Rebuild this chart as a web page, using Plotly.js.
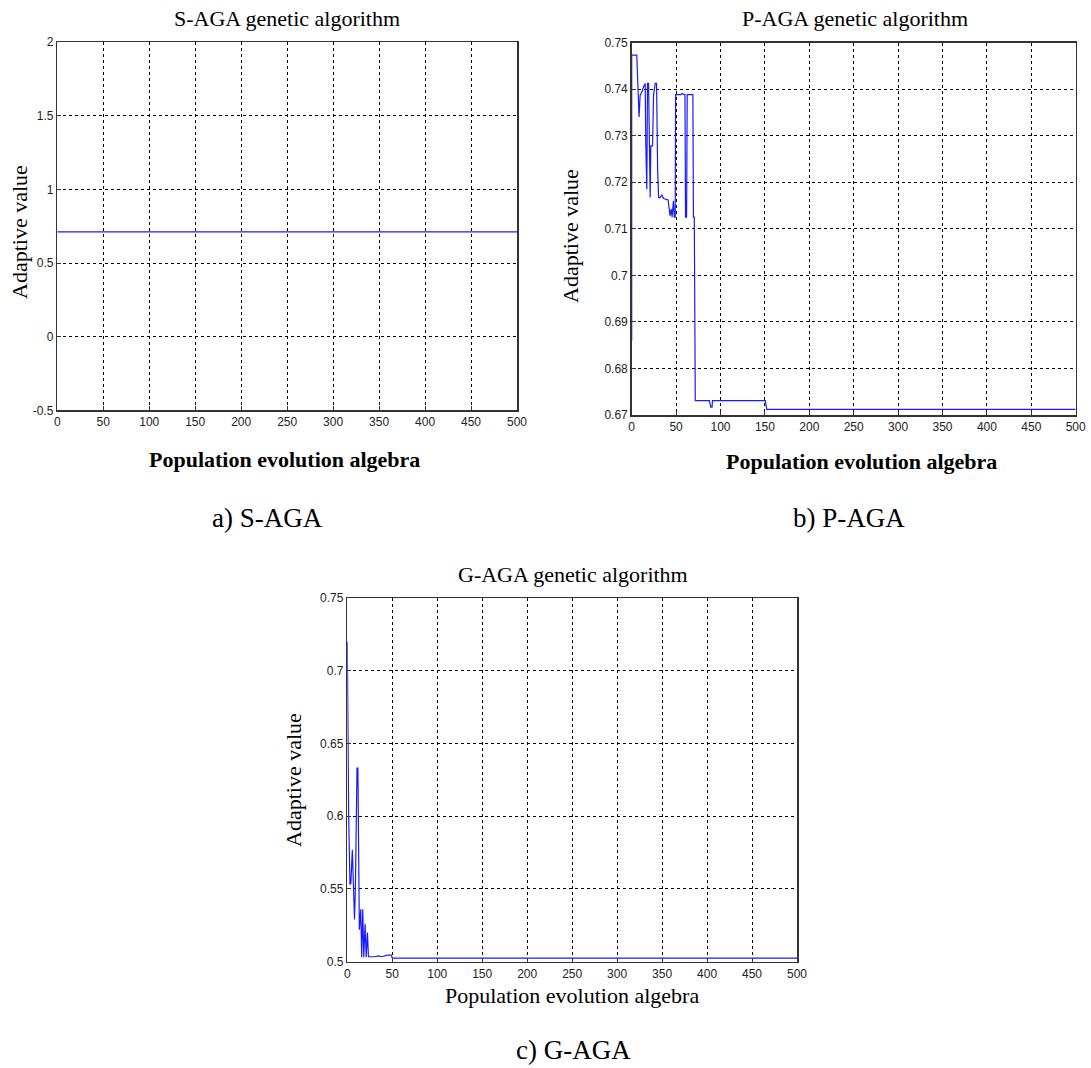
<!DOCTYPE html>
<html>
<head>
<meta charset="utf-8">
<script src="https://cdn.plot.ly/plotly-3.0.1.min.js"></script>
<style>
  html, body { margin: 0; padding: 0; background: #fff; }
  #chart { width: 1091px; height: 1068px; }
</style>
</head>
<body>
<div id="chart"></div>
<script>
// ---- Data ----
const sagaX = [0, 500];
const sagaY = [0.712, 0.712];

const pagaX = [0, 0, 5.7, 7.6, 8.3, 9.5, 11.5, 13.3, 14.4, 15.2, 15.9, 17.0, 17.8, 19.0, 20.8, 21.5, 23.5, 24.6, 26.5, 28.0, 29.2, 30.3,
               32.0, 34.0, 36.0, 41.0, 43.2, 44.5, 45.5, 47.0, 48.0, 49.0, 49.2, 49.5, 55.0, 57.0, 60.0, 60.6, 61.8, 62.5, 68.9, 69.5,
               70.5, 71.0, 71.6, 87.5, 89.0, 90.5, 91.0, 150.5, 152.0, 500];
const pagaY = [0.686, 0.7473, 0.7473, 0.7369, 0.734, 0.7387, 0.7394, 0.7405, 0.7412, 0.7412, 0.728, 0.7185, 0.7412, 0.7412, 0.7167, 0.7278, 0.7278, 0.7387, 0.7412, 0.7412, 0.7227, 0.7167,
               0.7167, 0.7172, 0.7165, 0.7162, 0.7128, 0.7142, 0.7125, 0.7160, 0.7125, 0.7125, 0.7255, 0.7388, 0.7388, 0.7390, 0.7388, 0.7125, 0.7125, 0.7388, 0.7388, 0.7125,
               0.7125, 0.6926, 0.6731, 0.6731, 0.6717, 0.6717, 0.6731, 0.6731, 0.6712, 0.6712];

const gagaX = [0, 0.4, 0.8, 1.5, 3.0, 4.0, 5.6, 6.5, 8.0, 9.0, 10.8, 11.8, 12.3, 13.4, 15.0, 16.0, 17.2, 18.3, 19.8, 21.0, 22.4, 23.5,
               30.0, 35.0, 38.0, 45.0, 49.0, 50.0, 500];
const gagaY = [0.720, 0.680, 0.643, 0.600, 0.553, 0.554, 0.577, 0.555, 0.529, 0.550, 0.633, 0.633, 0.582, 0.522, 0.536, 0.503, 0.536, 0.503, 0.526, 0.503, 0.520, 0.5034,
               0.5034, 0.5040, 0.5034, 0.5045, 0.5045, 0.5025, 0.5025];

const xTicks = [0, 50, 100, 150, 200, 250, 300, 350, 400, 450, 500];
const sagaYTicks = [-0.5, 0, 0.5, 1, 1.5, 2];
const sagaYText = ["-0.5", "0", "0.5", "1", "1.5", "2"];
const pagaYTicks = [0.67, 0.68, 0.69, 0.70, 0.71, 0.72, 0.73, 0.74, 0.75];
const pagaYText = ["0.67", "0.68", "0.69", "0.7", "0.71", "0.72", "0.73", "0.74", "0.75"];
const gagaYTicks = [0.5, 0.55, 0.6, 0.65, 0.7, 0.75];
const gagaYText = ["0.5", "0.55", "0.6", "0.65", "0.7", "0.75"];

const subplotTitles = ["S-AGA genetic algorithm", "P-AGA genetic algorithm", "G-AGA genetic algorithm"];
const xTitle = "Population evolution algebra";
const yTitle = "Adaptive value";
const captions = ["a) S-AGA", "b) P-AGA", "c) G-AGA"];

// ---- Layout helpers ----
const W = 1091, H = 1068;
const px = v => v / W;
const py = v => 1 - v / H;

const tickFont = { family: "Liberation Sans, Arial, sans-serif", size: 12, color: "#222" };
const serif = "Liberation Serif, Times New Roman, serif";

function xAxis(domain, anchor) {
  return {
    domain: domain, anchor: anchor, range: [0, 500],
    tickvals: xTicks, ticktext: xTicks.map(String),
    showgrid: true, gridcolor: "#000", gridwidth: 1, griddash: "3px,3px",
    zeroline: false, showline: true, linecolor: "#333", linewidth: 1.5, mirror: true,
    ticks: "inside", ticklen: 4, tickcolor: "#333",
    tickfont: tickFont, fixedrange: true
  };
}
function yAxis(domain, anchor, range, vals, text) {
  return {
    domain: domain, anchor: anchor, range: range,
    tickvals: vals, ticktext: text,
    showgrid: true, gridcolor: "#000", gridwidth: 1, griddash: "3px,3px",
    zeroline: false, showline: true, linecolor: "#333", linewidth: 1.5, mirror: true,
    ticks: "inside", ticklen: 4, tickcolor: "#333",
    tickfont: tickFont, fixedrange: true
  };
}

const lineStyle = { color: "#1a1aff", width: 1.2 };

const data = [
  { x: sagaX, y: sagaY, type: "scatter", mode: "lines", line: lineStyle, xaxis: "x", yaxis: "y", showlegend: false },
  { x: pagaX, y: pagaY, type: "scatter", mode: "lines", line: lineStyle, xaxis: "x2", yaxis: "y2", showlegend: false },
  { x: gagaX, y: gagaY, type: "scatter", mode: "lines", line: lineStyle, xaxis: "x3", yaxis: "y3", showlegend: false }
];

function ann(text, x, y, size, opts) {
  return Object.assign({
    text: text, x: px(x), y: py(y), xref: "paper", yref: "paper",
    xanchor: "center", yanchor: "middle", showarrow: false,
    font: { family: serif, size: size, color: "#000" }
  }, opts || {});
}

const annotations = [
  ann(subplotTitles[0], 287, 19, 22),
  ann(subplotTitles[1], 855, 19, 22),
  ann(subplotTitles[2], 573, 574, 22),
  ann("<b>" + xTitle + "</b>", 284, 459, 22),
  ann("<b>" + xTitle + "</b>", 861, 461, 22),
  ann(xTitle, 572, 995, 22),
  ann(yTitle, 20, 232, 22, { textangle: -90 }),
  ann(yTitle, 571, 236, 22, { textangle: -90 }),
  ann(yTitle, 293, 780, 22, { textangle: -90 }),
  ann(captions[0], 267, 518, 27),
  ann(captions[1], 849, 518, 27),
  ann(captions[2], 573, 1050, 27)
];

const layout = {
  width: W, height: H,
  margin: { l: 0, r: 0, t: 0, b: 0 },
  paper_bgcolor: "#fff", plot_bgcolor: "#fff",
  showlegend: false,
  xaxis: xAxis([px(57.3), px(517)], "y"),
  yaxis: yAxis([py(410.4), py(42)], "x", [-0.5, 2], sagaYTicks, sagaYText),
  xaxis2: xAxis([px(631.7), px(1075.7)], "y2"),
  yaxis2: yAxis([py(415), py(42.5)], "x2", [0.67, 0.75], pagaYTicks, pagaYText),
  xaxis3: xAxis([px(347.3), px(797)], "y3"),
  yaxis3: yAxis([py(961.7), py(598)], "x3", [0.5, 0.75], gagaYTicks, gagaYText),
  annotations: annotations
};

Plotly.newPlot("chart", data, layout, { displayModeBar: false, staticPlot: true });
</script>
</body>
</html>
